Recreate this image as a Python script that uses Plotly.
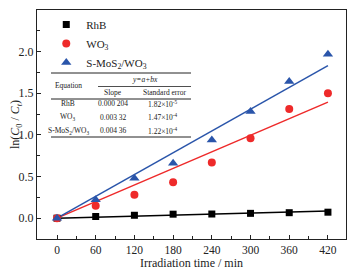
import plotly.graph_objects as go

time_min = [0, 60, 120, 180, 240, 300, 360, 420]
rhb = [0, 0.02, 0.035, 0.048, 0.05, 0.058, 0.066, 0.072]
wo3 = [0, 0.15, 0.28, 0.43, 0.67, 0.96, 1.31, 1.50]
smos2 = [0, 0.22, 0.48, 0.66, 0.94, 1.28, 1.64, 1.97]

names = ["RhB", "WO<sub>3</sub>", "S-MoS<sub>2</sub>/WO<sub>3</sub>"]
slopes = [0.000204, 0.00332, 0.00436]
slope_labels = ["0.000 204", "0.003 32", "0.004 36"]
std_errors = ["1.82×10<sup>-5</sup>", "1.47×10<sup>-4</sup>", "1.22×10<sup>-4</sup>"]
colors = ["#000000", "#ee2a2a", "#2a55aa"]
symbols = ["square", "circle", "triangle-up"]
sizes = [7, 8, 9]
series = [rhb, wo3, smos2]

font_family = "Liberation Serif, Times New Roman, serif"

fig = go.Figure()
for name, vals, b, c, s in zip(names, series, slopes, colors, symbols):
    fig.add_trace(go.Scatter(
        x=[time_min[0], time_min[-1]], y=[b * time_min[0], b * time_min[-1]],
        mode="lines", line=dict(color=c, width=1.5), showlegend=False, hoverinfo="skip"))
for name, vals, c, s, sz in zip(names, series, colors, symbols, sizes):
    fig.add_trace(go.Scatter(
        x=time_min, y=vals, mode="markers", name=name,
        marker=dict(symbol=s, color=c, size=sz, line=dict(width=0))))

# page body has an 8px margin; compensate so the plot area lands at 37..346 x 10..239
fig.update_layout(
    width=348, height=261,
    margin=dict(l=29, r=10, t=2, b=30),
    paper_bgcolor="white", plot_bgcolor="white",
    font=dict(family=font_family, size=12, color="#222"),
    legend=dict(x=0.03, y=1.0, xanchor="left", yanchor="top",
                bgcolor="rgba(0,0,0,0)", font=dict(size=11),
                tracegroupgap=0, itemwidth=30),
    xaxis=dict(range=[-31, 448], tickvals=[0, 60, 120, 180, 240, 300, 360, 420],
               ticks="inside", ticklen=4, tickcolor="#222", automargin=False,
               tickfont=dict(size=11.5),
               minor=dict(tickvals=[30, 90, 150, 210, 270, 330, 390], ticks="inside", ticklen=2.5, tickcolor="#222"),
               showline=True, linecolor="#222", linewidth=1.2, mirror=True,
               showgrid=False, zeroline=False),
    yaxis=dict(range=[-0.25, 2.5], tickvals=[0, 0.5, 1.0, 1.5, 2.0, 2.5],
               ticktext=["0.0", "0.5", "1.0", "1.5", "2.0", "2.5"],
               ticks="inside", ticklen=4, tickcolor="#222", automargin=False,
               minor=dict(tickvals=[-0.25, 0.25, 0.75, 1.25, 1.75, 2.25], ticks="inside", ticklen=2.5, tickcolor="#222"),
               showline=True, linecolor="#222", linewidth=1.2, mirror=True,
               showgrid=False, zeroline=False,
               title=dict(text="ln(<i>C</i><sub>0</sub> / <i>C</i><sub><i>t</i></sub>)", standoff=1, font=dict(size=12))),
)

# positions given in page pixels, converted to paper coordinates
W, H = 309.0, 229.0
def px(x):
    return (x - 37) / W
def py(y):
    return (239 - y) / H

fig.add_annotation(x=px(191.5), y=py(263), xref="paper", yref="paper",
                   text="Irradiation time / min", showarrow=False,
                   font=dict(family=font_family, size=12, color="#222"),
                   xanchor="center", yanchor="middle")

line_style = dict(color="#222", width=1)
fig.add_shape(type="line", xref="paper", yref="paper", x0=px(51), x1=px(191), y0=py(73), y1=py(73), line=line_style)
fig.add_shape(type="line", xref="paper", yref="paper", x0=px(98), x1=px(191), y0=py(86.5), y1=py(86.5), line=dict(color="#222", width=0.8))
fig.add_shape(type="line", xref="paper", yref="paper", x0=px(51), x1=px(191), y0=py(99), y1=py(99), line=line_style)
fig.add_shape(type="line", xref="paper", yref="paper", x0=px(51), x1=px(191), y0=py(137), y1=py(137), line=line_style)

tf = dict(family=font_family, size=7.5, color="#222")
def txt(x, y, t):
    fig.add_annotation(x=px(x), y=py(y), xref="paper", yref="paper", text=t,
                       showarrow=False, font=tf, xanchor="center", yanchor="middle")

txt(68, 85.5, "Equation")
txt(145, 79.5, "<i>y=a+bx</i>")
txt(113, 93, "Slope")
txt(165, 93, "Standard error")
row_y = [104, 117, 130.5]
for n, sl, se, yy in zip(names, slope_labels, std_errors, row_y):
    txt(68, yy, n)
    txt(113, yy, sl)
    txt(163, yy, se)

fig.write_html("out.html")
